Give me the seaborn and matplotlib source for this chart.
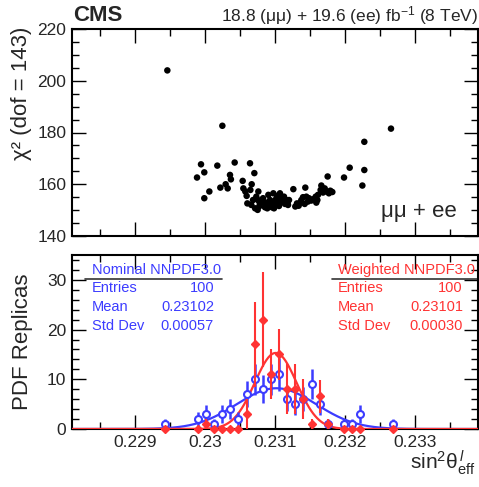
import numpy as np
import seaborn as sns
import matplotlib
matplotlib.use('Agg')
import matplotlib.pyplot as plt
from matplotlib.ticker import MultipleLocator, FuncFormatter

sns.set_style("ticks")
plt.rcParams['font.family'] = ['Liberation Sans', 'DejaVu Sans']
plt.rcParams['mathtext.fontset'] = 'custom'
plt.rcParams['mathtext.rm'] = 'Liberation Sans'
plt.rcParams['mathtext.it'] = 'Liberation Sans:italic'
plt.rcParams['mathtext.bf'] = 'Liberation Sans:bold'

# chi2 of each replica vs extracted sin2theta
replica_sin2 = [0.229462, 0.230248, 0.232657, 0.232276, 0.232276, 0.232248, 0.232067, 0.231986,
                0.231752, 0.229886, 0.229943, 0.229990, 0.229990, 0.230062, 0.230176, 0.230219,
                0.230295, 0.230324, 0.230357, 0.230370, 0.230424, 0.230538, 0.230548, 0.230576,
                0.230643, 0.230705, 0.230667, 0.230605, 0.230595, 0.230648,
                0.231262, 0.231433, 0.231662, 0.231652, 0.231819, 0.231770, 0.231605, 0.231590,
                0.231338, 0.231362, 0.231448, 0.231470, 0.231519, 0.230716, 0.230752, 0.230762,
                0.230809, 0.230857, 0.230905, 0.230929, 0.230952, 0.230976, 0.231000, 0.231024,
                0.231048, 0.231071, 0.231095, 0.231119, 0.231143, 0.231181, 0.231200, 0.230686,
                0.230733, 0.230781, 0.230829, 0.230876, 0.230890, 0.230957, 0.231005, 0.231033,
                0.231057, 0.231081, 0.231100, 0.231129, 0.231162, 0.231186, 0.231314, 0.231376,
                0.231400, 0.231486, 0.231543, 0.231581, 0.231614, 0.231686, 0.231733, 0.231790,
                0.231710, 0.230776, 0.230848, 0.230919, 0.230986, 0.231290, 0.231424, 0.230662,
                0.230757]
replica_chi2 = [204.0, 182.6, 181.5, 176.4, 165.5, 159.5, 166.4, 162.6,
                163.0, 162.6, 167.7, 164.6, 154.6, 157.2, 167.2, 158.7,
                160.0, 158.4, 163.6, 161.9, 168.4, 161.3, 158.4, 157.2,
                168.1, 164.3, 160.0, 152.6, 155.5, 157.8,
                158.1, 158.7, 159.5, 157.8, 157.0, 156.5, 153.9, 152.9,
                151.7, 152.9, 155.2, 153.3, 153.7, 150.7, 150.1, 157.2,
                153.3, 151.1, 155.9, 153.9, 152.6, 156.5, 152.0, 154.6,
                153.3, 156.5, 155.2, 153.3, 152.4, 152.9, 153.9, 153.9,
                155.2, 152.9, 154.6, 152.9, 150.7, 151.1, 153.9, 155.5,
                151.6, 152.9, 154.2, 155.2, 153.9, 152.0, 152.6, 153.9,
                155.0, 154.6, 154.2, 155.2, 155.9, 156.8, 157.2, 157.5,
                158.4, 151.5, 152.6, 152.0, 150.7, 151.4, 152.4, 152.0,
                153.9]

# histogram of replicas (bin centres)
bin_center = [0.229434, 0.229898, 0.230014, 0.230130, 0.230246, 0.230362, 0.230478, 0.230594,
              0.230710, 0.230826, 0.230942, 0.231058, 0.231174, 0.231290, 0.231406, 0.231522,
              0.231638, 0.231754, 0.231986, 0.232102, 0.232218, 0.232682]
nominal_counts = [1, 2, 3, 1, 3, 4, 2, 7, 10, 8, 10, 11, 6, 5, 6, 9, 5, 1, 1, 1, 3, 1]
weighted_counts = [0, 0, 1, 0, 0, 0, 0, 3, 17, 22, 11, 15, 8, 8, 6, 1, 6.6, 1, 0, 0, 0, 0]
weighted_err = [0, 0, 1, 0, 0, 0, 0, 3, 8.5, 9.5, 5, 5.2, 5, 5, 4, 1, 3.3, 1, 0, 0, 0, 0]

# gaussian fits: (mean, sigma, peak)
nominal_fit = (0.23102, 0.00057, 8.2)
weighted_fit = (0.23101, 0.00030, 15.3)

nominal_stats = ['100', '0.23102', '0.00057']
weighted_stats = ['100', '0.23101', '0.00030']
stat_names = ['Entries', 'Mean', 'Std Dev']

blue = '#3c3cff'
red = '#ff3333'
xlo, xhi = 0.2281, 0.2339

fig = plt.figure(figsize=(4.79, 4.87), dpi=100)
ax1 = fig.add_axes([72/479, 1-236/487, 406/479, 207/487])
ax2 = fig.add_axes([72/479, 1-429/487, 406/479, 174/487])

# top panel
sns.scatterplot(x=replica_sin2, y=replica_chi2, color='black', s=22, edgecolor='none', ax=ax1)
ax1.set_xlim(xlo, xhi)
ax1.set_ylim(140, 220)
ax1.yaxis.set_major_locator(MultipleLocator(20))
ax1.yaxis.set_minor_locator(MultipleLocator(5))
ax1.set_xticklabels([])
ax1.set_ylabel('χ² (dof = 143)', fontsize=16, loc='top')
ax1.yaxis.set_label_coords(-0.098, 1.01)
ax1.text(0.948, 0.092, 'μμ + ee', transform=ax1.transAxes, ha='right', va='baseline', fontsize=16)

# bottom panel
xs = np.linspace(xlo, xhi, 400)
for fit, col in [(nominal_fit, blue), (weighted_fit, red)]:
    m, s, a = fit
    sns.lineplot(x=xs, y=a*np.exp(-0.5*((xs-m)/s)**2), color=col, lw=1.6, ax=ax2, zorder=3)

nb = np.array(nominal_counts, dtype=float)
bc = np.array(bin_center)
ax2.errorbar(bc, nb, yerr=np.sqrt(nb), fmt='o', ms=5, mfc='white', mec=blue, mew=1.5,
             ecolor=blue, elinewidth=1.8, color=blue, zorder=4)
wc = np.array(weighted_counts, dtype=float)
we = np.array(weighted_err, dtype=float)
ax2.errorbar(bc, wc, yerr=we, fmt='D', ms=4, mfc=red, mec=red, ecolor=red,
             elinewidth=1.5, color=red, zorder=5, clip_on=False)

ax2.set_xlim(xlo, xhi)
ax2.set_ylim(0, 35)
ax2.yaxis.set_major_locator(MultipleLocator(10))
ax2.yaxis.set_minor_locator(MultipleLocator(2))
ax2.xaxis.set_major_formatter(FuncFormatter(lambda v, p: '%g' % round(v, 4)))
ax2.set_ylabel('PDF Replicas', fontsize=16)
ax2.yaxis.set_label_coords(-0.096, 0.5)
ax2.set_xlabel(r'sin$^{2}\mathrm{θ}^{\,l}_{\mathrm{eff}}$', fontsize=15, loc='right')
ax2.xaxis.set_label_coords(0.995, -0.11)

# stat boxes
for stats, col, x0, x1, lx0, lx1, title in [
        (nominal_stats, blue, 0.049, 0.350, 0.032, 0.369, 'Nominal NNPDF3.0'),
        (weighted_stats, red, 0.655, 0.963, 0.640, 1.0, 'Weighted NNPDF3.0')]:
    ax2.text(x0, 0.893, title, color=col, fontsize=10.5, transform=ax2.transAxes, va='baseline')
    ax2.plot([lx0, lx1], [0.862, 0.862], color='#333333', lw=1.2, transform=ax2.transAxes)
    for k, yy in enumerate([0.810, 0.701, 0.592]):
        ax2.text(x0, yy, stat_names[k], color=col, fontsize=10.5, transform=ax2.transAxes, va='center')
        ax2.text(x1, yy, stats[k], color=col, fontsize=10.5, transform=ax2.transAxes,
                 va='center', ha='right')

for ax in (ax1, ax2):
    ax.xaxis.set_major_locator(MultipleLocator(0.001))
    ax.xaxis.set_minor_locator(MultipleLocator(0.0005))
    ax.tick_params(which='both', direction='in', top=True, right=True, width=1, color='black')
    ax.tick_params(which='major', length=10, labelsize=12.5, pad=4)
    ax.tick_params(which='minor', length=5)
    for sp in ax.spines.values():
        sp.set_linewidth(1.5)
        sp.set_color('black')

fig.text(73/479, 1-21/487, 'CMS', fontsize=16, fontweight='bold', va='baseline')
fig.text(478/479, 1-21/487, r'18.8 (μμ) + 19.6 (ee) fb$^{-1}$ (8 TeV)', fontsize=12.5,
         ha='right', va='baseline')

fig.savefig('out.png', dpi=100)
